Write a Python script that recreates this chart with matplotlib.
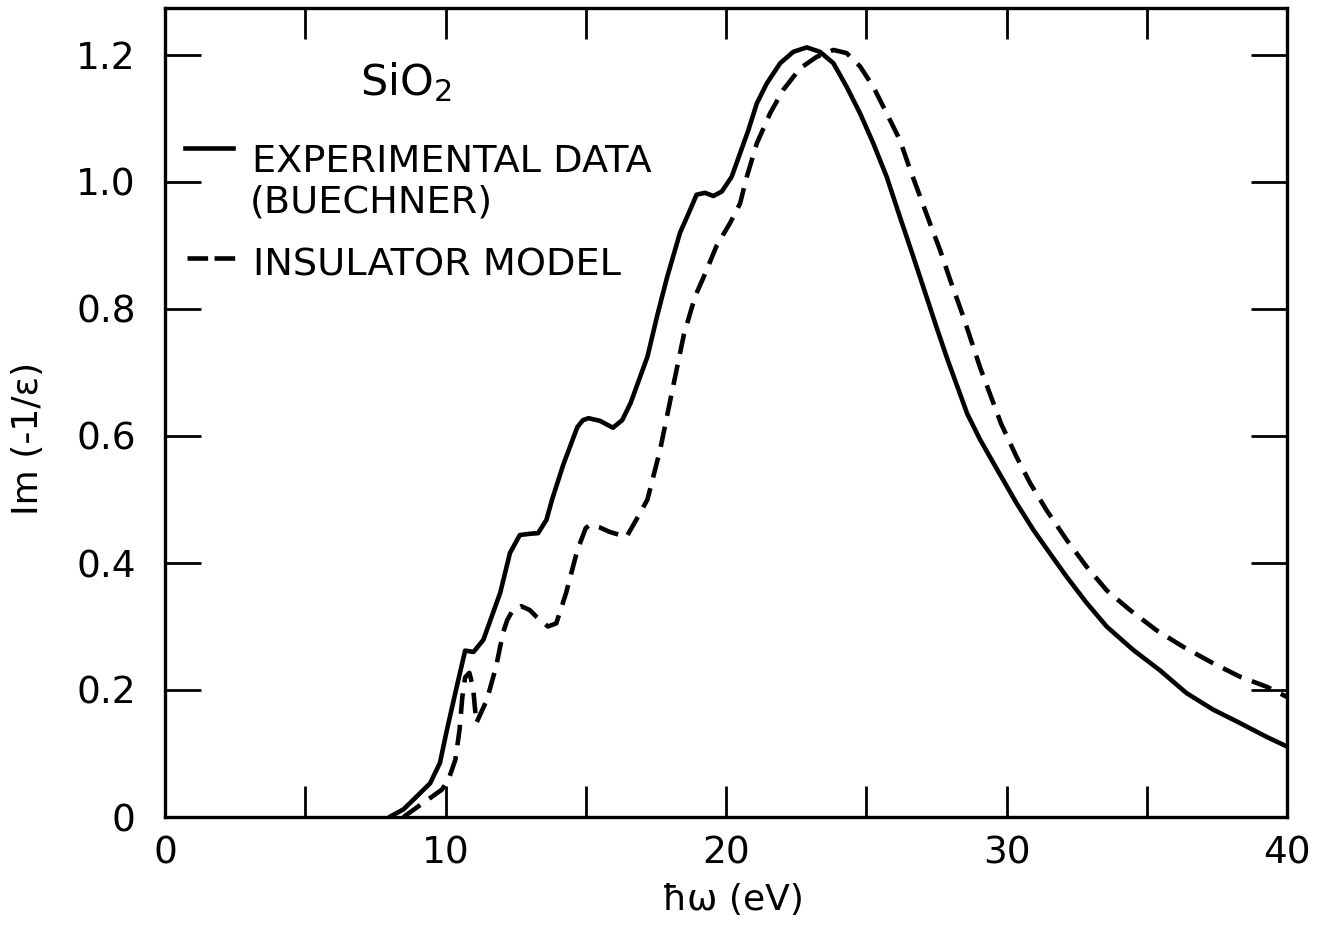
import matplotlib
matplotlib.use("Agg")
import matplotlib.pyplot as plt
from matplotlib.lines import Line2D
from matplotlib.ticker import FixedLocator, FixedFormatter

# ---------------- data ----------------
exp_x = [8.0, 8.5, 8.85, 9.45, 9.8, 10.05, 10.4, 10.7, 11.0, 11.35, 11.95, 12.3,
         12.65, 13.0, 13.3, 13.6, 13.8, 14.2, 14.7, 14.9, 15.1, 15.5, 15.97,
         16.3, 16.6, 17.2, 17.55, 17.9, 18.36, 18.72, 18.95, 19.25, 19.55,
         19.85, 20.2, 20.5, 20.8, 21.1, 21.45, 21.93, 22.4, 22.88, 23.35,
         23.83, 24.3, 24.78, 25.25, 25.73, 26.2, 26.68, 27.15, 27.5, 27.9,
         28.6, 29.05, 29.5, 30.36, 30.96, 31.55, 32.15, 32.86, 33.57, 34.52,
         35.47, 36.42, 37.37, 38.32, 39.28, 40.0]
exp_y = [0.0, 0.012, 0.027, 0.053, 0.085, 0.137, 0.205, 0.262, 0.26, 0.279,
         0.353, 0.416, 0.444, 0.446, 0.447, 0.468, 0.5, 0.555, 0.614, 0.625,
         0.628, 0.624, 0.613, 0.625, 0.652, 0.725, 0.79, 0.85, 0.92, 0.956,
         0.98, 0.983, 0.978, 0.985, 1.008, 1.045, 1.082, 1.124, 1.155, 1.187,
         1.205, 1.212, 1.205, 1.187, 1.15, 1.108, 1.061, 1.008, 0.945, 0.882,
         0.819, 0.772, 0.72, 0.635, 0.595, 0.56, 0.494, 0.452, 0.415, 0.378,
         0.337, 0.3, 0.263, 0.231, 0.195, 0.169, 0.148, 0.126, 0.111]

mod_x = [8.5, 9.2, 9.87, 10.1, 10.35, 10.5, 10.6, 10.7, 10.85, 10.98, 11.1,
         11.47, 11.8, 12.05, 12.2, 12.4, 12.7, 13.0, 13.25, 13.65, 13.95, 14.3,
         14.7, 15.0, 15.15, 15.5, 15.85, 16.45, 16.8, 17.2, 17.65, 18.1, 18.5,
         18.9, 19.2, 19.67, 20.14, 20.5, 20.74, 21.1, 21.57, 22.04, 22.64,
         23.23, 23.83, 24.3, 24.78, 25.25, 25.73, 26.2, 26.56, 26.92, 27.27,
         27.63, 27.99, 28.46, 29.05, 29.8, 30.36, 30.84, 31.43, 32.15, 32.86,
         33.57, 34.4, 35.35, 36.3, 37.37, 38.32, 39.28, 40.0]
mod_y = [0.0, 0.022, 0.043, 0.058, 0.09, 0.137, 0.189, 0.22, 0.227, 0.205,
         0.148, 0.184, 0.236, 0.29, 0.31, 0.326, 0.332, 0.326, 0.315, 0.3,
         0.305, 0.353, 0.42, 0.455, 0.46, 0.456, 0.449, 0.441, 0.468, 0.5,
         0.578, 0.675, 0.76, 0.82, 0.85, 0.9, 0.935, 0.966, 1.008, 1.061,
         1.108, 1.145, 1.179, 1.197, 1.208, 1.203, 1.182, 1.15, 1.108, 1.066,
         1.02, 0.977, 0.935, 0.893, 0.846, 0.788, 0.709, 0.62, 0.567, 0.526,
         0.483, 0.436, 0.394, 0.357, 0.326, 0.294, 0.268, 0.242, 0.221, 0.205,
         0.189]

x_major = [0, 10, 20, 30, 40]
x_labels = ["0", "10", "20", "30", "40"]
x_minor = [5, 15, 25, 35]
y_major = [0.0, 0.2, 0.4, 0.6, 0.8, 1.0, 1.2]
y_labels = ["0", "0.2", "0.4", "0.6", "0.8", "1.0", "1.2"]

material = "SiO$_2$"
exp_label = "EXPERIMENTAL DATA"
exp_label2 = "(BUECHNER)"
mod_label = "INSULATOR MODEL"
xlabel = "ħω (eV)"
ylabel = "Im (-1/ε)"

# ---------------- figure ----------------
plt.rcParams['font.family'] = ['DejaVu Sans']
W, H = 1323, 951
fig = plt.figure(figsize=(W / 100, H / 100), dpi=100)
L, R, B, T = 165, 1287, 817, 8
ax = fig.add_axes([L / W, 1 - B / H, (R - L) / W, (B - T) / H])

lw = 3.3
ax.plot(exp_x, exp_y, color="black", lw=lw, solid_capstyle="round",
        solid_joinstyle="round")
ax.plot(mod_x, mod_y, color="black", lw=lw, linestyle=(0, (4.5, 2.4)),
        dash_capstyle="butt", dash_joinstyle="round")

ax.set_xlim(0, 40)
ax.set_ylim(0, (B - T) / 635.0)

for s in ax.spines.values():
    s.set_linewidth(2.4)

ax.xaxis.set_major_locator(FixedLocator(x_major))
ax.xaxis.set_major_formatter(FixedFormatter(x_labels))
ax.xaxis.set_minor_locator(FixedLocator(x_minor))
ax.yaxis.set_major_locator(FixedLocator(y_major))
ax.yaxis.set_major_formatter(FixedFormatter(y_labels))

ax.tick_params(axis="x", which="both", direction="in", top=True, bottom=True,
               length=22, width=2.0, labelsize=27, pad=13)
ax.tick_params(axis="y", which="both", direction="in", left=True, right=True,
               length=26, width=2.0, labelsize=27, pad=21)

ax.text((733 - L) / (R - L), -(900 - B) / (B - T), xlabel, transform=ax.transAxes,
        ha="center", va="center", fontsize=26)
ax.text((28 - L) / (R - L), (B - 438) / (B - T), ylabel, transform=ax.transAxes,
        ha="center", va="center", fontsize=26, rotation=90)


def fx(px):
    return (px - L) / (R - L)


def fy(py):
    return (B - py) / (B - T)


ax.text(fx(360), fy(95), material, transform=ax.transAxes, ha="left",
        va="baseline", fontsize=31)
ax.text(fx(252), fy(172), exp_label, transform=ax.transAxes, ha="left",
        va="baseline", fontsize=27.5)
ax.text(fx(250), fy(213), exp_label2, transform=ax.transAxes, ha="left",
        va="baseline", fontsize=27.5)
ax.text(fx(253), fy(275), mod_label, transform=ax.transAxes, ha="left",
        va="baseline", fontsize=27.5)

ax.add_line(Line2D([fx(185), fx(233)], [fy(148), fy(148)], transform=ax.transAxes,
                   color="black", lw=lw))
ax.add_line(Line2D([fx(187), fx(235)], [fy(258), fy(258)], transform=ax.transAxes,
                   color="black", lw=lw, linestyle=(0, (4.5, 1.4))))

fig.savefig("out.png", dpi=100)
